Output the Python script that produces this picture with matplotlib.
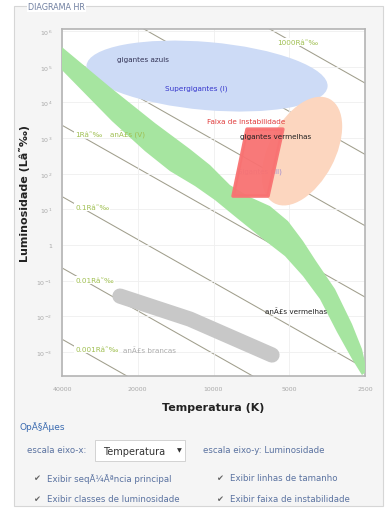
import numpy as np
import matplotlib.pyplot as plt
import matplotlib.transforms as mtransforms
from matplotlib.patches import Ellipse, Rectangle

# Sequencia principal (bordas superior e inferior), T [K] e L [Lsol]
ms_top_T = [40000, 25780, 17080, 12400, 10320, 8600, 7161, 5964, 5058, 4410, 3915, 3290, 2815, 2570, 2455]
ms_top_L = [3.56e5, 2.69e4, 2640, 492, 175, 48.2, 22.2, 12.4, 4.71, 1.30, 0.356, 0.0585, 6.1e-3, 1.22e-3, 2.94e-4]
ms_bot_T = [40000, 25320, 18720, 14890, 11840, 9865, 8065, 6358, 5200, 4410, 3775, 3230, 2815, 2570]
ms_bot_L = [8.07e4, 3000, 432, 119, 45.2, 18.3, 5.72, 1.48, 0.492, 0.135, 0.0307, 3.65e-3, 6.4e-4, 2.27e-4]

# anas brancas
wd_T = [23530, 12400, 5856]
wd_L = [0.0372, 8.4e-3, 8.3e-4]

# faixa de instabilidade
inst_T = [7360, 5300, 6073, 8365]
inst_L = [1790, 1790, 23.7, 23.7]

# linhas de raio: L em 40000 K e em 2500 K
raios = ["1000", "100", "10", "1", "0.1", "0.01", "0.001"]
raio_L_quente = [2.3e9, 2.3e7, 2.3e5, 2300, 23, 0.23, 2.3e-3]
raio_L_frio = [3.5e4, 350, 3.5, 0.035, 3.5e-4, 3.5e-6, 3.5e-8]
raio_rot = ["1000Râ˜‰", "1Râ˜‰", "0.1Râ˜‰", "0.01Râ˜‰", "0.001Râ˜‰"]
raio_rot_T = [5594, 35500, 35500, 35500, 35500]
raio_rot_L = [4.9e5, 1300, 11.6, 0.104, 1.22e-3]

xticks = [40000, 20000, 10000, 5000, 2500]
yticks = [1e-3, 1e-2, 1e-1, 1, 1e1, 1e2, 1e3, 1e4, 1e5, 1e6]

W, H = 386, 510
fx = lambda px: px / W
fy = lambda py: 1 - py / H

fig = plt.figure(figsize=(W / 100, H / 100), dpi=100, facecolor="white")

# moldura "DIAGRAMA HR"
fig.patches.append(Rectangle((fx(14), fy(507)), (383 - 14) / W, (507 - 7) / H,
                             transform=fig.transFigure, fc="#f5f5f5", ec="#d6d6d6", lw=0.8, zorder=-10))
fig.text(fx(28), fy(7), "DIAGRAMA HR", fontsize=5.8, color="#6f7fa0", va="center",
         bbox=dict(fc="white", ec="none", pad=1))

ax = fig.add_axes([fx(62), fy(377), (365 - 62) / W, (377 - 30) / H])
ax.set_facecolor("white")
ax.set_xscale("log")
ax.set_yscale("log")
ax.set_xlim(40000, 2500)
ax.set_ylim(10 ** -3.67, 10 ** 6.06)
ax.set_xticks(xticks)
ax.set_xticklabels([str(t) for t in xticks])
ax.set_yticks(yticks)
ax.set_yticklabels(["1" if v == 1 else "$10^{%d}$" % round(np.log10(v)) for v in yticks])
ax.minorticks_off()
ax.tick_params(length=0, labelsize=4.5, labelcolor="#a8a8a8", pad=7)
ax.grid(True, color="#efefef", lw=0.6, zorder=0)
for s in ax.spines.values():
    s.set_color("#b4b4b4")
    s.set_linewidth(1.2)

for Lq, Lf in zip(raio_L_quente, raio_L_frio):
    ax.plot([40000, 2500], [Lq, Lf], color="#a09e8c", lw=0.75, zorder=1)

blend = lambda T, L: fig.dpi_scale_trans + mtransforms.ScaledTranslation(T, L, ax.transData)
ax.add_patch(Ellipse((0, 0), 2.42, 0.68, angle=-5, fc="#cddbf6", ec="none",
                     transform=blend(10610, 5.5e4), zorder=2))
ax.add_patch(Ellipse((0, 0), 1.18, 0.66, angle=62, fc="#fcd6bf", ec="none",
                     transform=blend(4450, 432), zorder=2))

ax.fill(ms_top_T + ms_bot_T[::-1], ms_top_L + ms_bot_L[::-1], color="#a6e5a0", lw=0, zorder=3)
ax.plot(wd_T, wd_L, color="#c8c8c8", lw=11, solid_capstyle="round", solid_joinstyle="round", zorder=3)

ax.text(8065, 119, "Gigantes (III)", fontsize=5, color="#a08cd0", va="center", zorder=3.5)
ax.fill(inst_T, inst_L, fc="#f87272", ec="#f87272", lw=2.5, joinstyle="round", alpha=0.95, zorder=4)

lab = dict(fontsize=5.2, va="center", zorder=6)
ax.text(19060, 1.64e5, "gigantes azuis", color="#333355", ha="center", **lab)
ax.text(11740, 2.52e4, "Supergigantes (I)", color="#3535cc", ha="center", **lab)
ax.text(10610, 3000, "Faixa de instabilidade", color="#e03c3c", **lab)
ax.text(7847, 1140, "gigantes vermelhas", color="#222222", **lab)
ax.text(6242, 0.0141, "anÃ£s vermelhas", color="#222222", **lab)
ax.text(22890, 1.2e-3, "anÃ£s brancas", color="#ababab", **lab)
ax.text(25800, 1300, "anÃ£s (V)", color="#9fbf50", **lab)
for txt, T, L in zip(raio_rot, raio_rot_T, raio_rot_L):
    ax.text(T, L, txt, color="#9fbf50", fontsize=5.2, va="center", zorder=5.5,
            bbox=dict(fc="white", ec="none", pad=0.6))

ax.set_xlabel("Temperatura (K)", fontsize=8, fontweight="bold", color="#222222", labelpad=8)
ax.set_ylabel("Luminosidade (Lâ˜‰)", fontsize=8, fontweight="bold", color="#222222")
ax.yaxis.set_label_coords(-0.105, 0.53)

# Opcoes
fig.text(fx(20), fy(427), "OpÃ§Ãµes", fontsize=6.5, color="#3b6bb0", va="center")
opt = dict(fontsize=6.2, color="#5a72a0", va="center")
fig.text(fx(27), fy(451), "escala eixo-x:", **opt)
fig.patches.append(Rectangle((fx(95), fy(462)), 90 / W, 21 / H, transform=fig.transFigure,
                             fc="white", ec="#cccccc", lw=0.6, zorder=-5))
fig.text(fx(103), fy(452), "Temperatura", fontsize=7, color="#333333", va="center")
fig.text(fx(177), fy(451), "▼", fontsize=4.5, color="#333333", va="center")
fig.text(fx(203), fy(451), "escala eixo-y: Luminosidade", **opt)

checks = [(33, 479, "Exibir seqÃ¼Ãªncia principal"), (216, 479, "Exibir linhas de tamanho"),
          (33, 500, "Exibir classes de luminosidade"), (216, 500, "Exibir faixa de instabilidade")]
for x, y, txt in checks:
    fig.text(fx(x), fy(y), "✔", fontsize=6, color="#666666", va="center")
    fig.text(fx(x + 14), fy(y), txt, **opt)

fig.savefig("out.png", dpi=100, facecolor=fig.get_facecolor())
